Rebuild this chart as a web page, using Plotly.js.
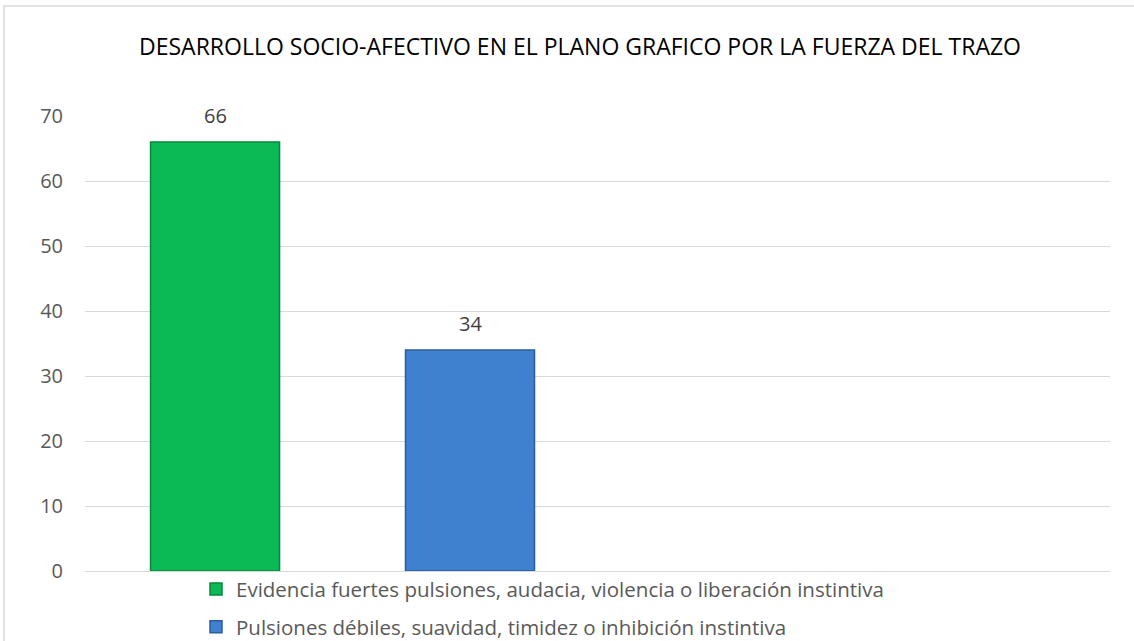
<!DOCTYPE html>
<html><head><meta charset="utf-8">
<script src="https://cdn.plot.ly/plotly-3.0.1.min.js"></script>
<style>body{margin:0;background:#fff}#chart{width:1134px;height:641px}</style>
</head><body><div id="chart"></div>
<script>
const categories = ['Fuerza del trazo'];
const seriesNames = [
  'Evidencia fuertes pulsiones, audacia, violencia o liberación instintiva',
  'Pulsiones débiles, suavidad, timidez o inhibición instintiva',
  '', ''
];
const seriesValues = [[66], [34], [null], [null]];
const seriesColors = ['#0bba55', '#3f80cf', '#a5a5a5', '#ffc000'];
const seriesLines = ['#07873d', '#2a5d9c', '#777', '#aa8000'];
const yTicks = [0, 10, 20, 30, 40, 50, 60, 70];
const titleText = 'DESARROLLO SOCIO-AFECTIVO EN EL PLANO GRAFICO POR LA FUERZA DEL TRAZO';

const font = 'Open Sans, Noto Sans, sans-serif';
const W = 1134, H = 641;
const margin = {l: 85, r: 24, t: 116, b: 70, autoexpand: false};
const bargap = 0.005, bargroupgap = 0.494;
const plotW = W - margin.l - margin.r;
const slotW = plotW * (1 - bargap) / seriesNames.length;

const traces = seriesNames.map((n, i) => ({
  type: 'bar', x: categories, y: seriesValues[i], name: n,
  legendgroup: 'g' + i,
  showlegend: i < 2,
  marker: {color: seriesColors[i], line: {color: seriesLines[i], width: 1.5}},
  hoverinfo: 'skip'
}));

// data labels placed through the axes, shifted to each bar's slot
const annotations = [];
seriesValues.forEach((vals, i) => {
  vals.forEach((v, j) => {
    if (v == null) return;
    annotations.push({
      xref: 'x', yref: 'y', x: categories[j], y: v,
      xshift: (i - (seriesNames.length - 1) / 2) * slotW,
      yshift: 27, yanchor: 'middle', showarrow: false,
      text: String(v), font: {family: font, size: 20, color: '#404040'}
    });
  });
});

const layout = {
  width: W, height: H, margin: margin,
  paper_bgcolor: '#fff', plot_bgcolor: '#fff',
  barmode: 'group', bargap: bargap, bargroupgap: bargroupgap,
  title: {text: titleText, font: {family: font, size: 23, color: '#000'},
          x: 580/1134, xanchor: 'center', y: 1 - 47/641, yanchor: 'middle'},
  xaxis: {type: 'category', range: [-0.5, 0.5], autorange: false,
          showticklabels: false, showgrid: false, zeroline: false, showline: false, fixedrange: true},
  yaxis: {range: [0, 70], tickvals: yTicks, ticktext: yTicks.map(String),
          showgrid: true, gridcolor: '#d9d9d9', gridwidth: 1,
          zeroline: true, zerolinecolor: '#d9d9d9', zerolinewidth: 1,
          showline: false, ticks: '', ticklen: 0,
          tickfont: {family: font, size: 20, color: '#595959'}, ticklabelstandoff: 21},
  showlegend: true,
  legend: {x: (196 - 85) / 1025, xanchor: 'left', y: 0.004, yanchor: 'top',
           orientation: 'v', traceorder: 'grouped', tracegroupgap: 8,
           itemwidth: 30, font: {family: font, size: 20.5, color: '#595959'},
           bgcolor: 'rgba(0,0,0,0)'},
  annotations: annotations,
  shapes: [{type: 'rect', xref: 'paper', yref: 'paper',
            x0: (4 - 85) / 1025, x1: 1.2, y0: -0.5, y1: (571 - 6) / 455,
            line: {color: '#d9d9d9', width: 1.5}, fillcolor: 'rgba(0,0,0,0)', layer: 'below'}]
};
Plotly.newPlot('chart', traces, layout, {displayModeBar: false, staticPlot: true});
</script></body></html>
